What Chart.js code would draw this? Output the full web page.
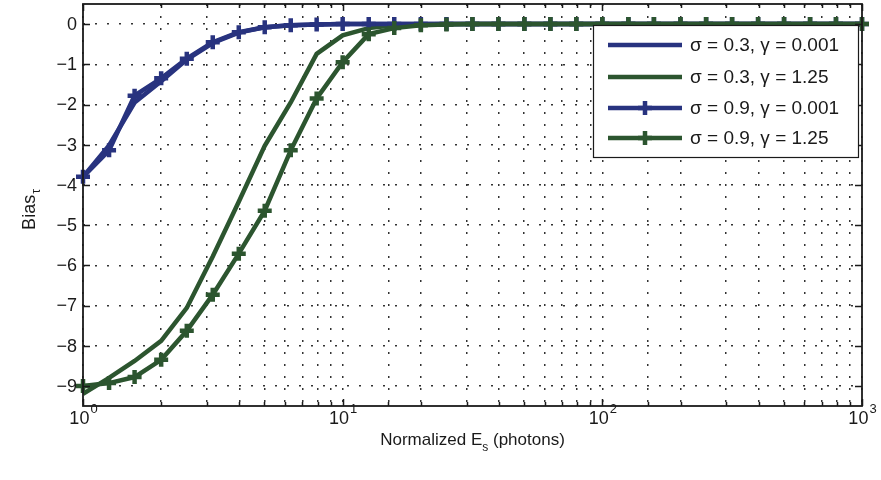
<!DOCTYPE html>
<html>
<head>
<meta charset="utf-8">
<title>Bias vs normalized Es</title>
<script src="https://cdn.jsdelivr.net/npm/chart.js@4.4.1/dist/chart.umd.min.js"></script>
<style>
    html, body { margin: 0; padding: 0; background: #fff; }
    #wrap { width: 881px; height: 480px; }
</style>
</head>
<body>
<div id="wrap"><canvas id="biasChart" width="881" height="480"></canvas></div>
<script>
// Normalized Es (photons), 10 points per decade
const photons = [1, 1.26, 1.58, 2, 2.51, 3.16, 3.98, 5.01, 6.31, 7.94,
    10, 12.6, 15.8, 20, 25.1, 31.6, 39.8, 50.1, 63.1, 79.4,
    100, 126, 158, 200, 251, 316, 398, 501, 631, 794, 1000];

// Bias values per curve
const biasS03G0001 = [-3.8, -3.02, -1.95, -1.42, -0.88, -0.47, -0.21, -0.08, -0.03, -0.01,
    0, 0, 0, 0, 0, 0, 0, 0, 0, 0, 0, 0, 0, 0, 0, 0, 0, 0, 0, 0, 0];
const biasS03G125 = [-9.2, -8.8, -8.38, -7.88, -7.06, -5.78, -4.42, -3.03, -1.95, -0.74,
    -0.28, -0.1, -0.03, -0.01, 0, 0, 0, 0, 0, 0, 0, 0, 0, 0, 0, 0, 0, 0, 0, 0, 0];
const biasS09G0001 = [-3.8, -3.14, -1.78, -1.35, -0.86, -0.45, -0.2, -0.08, -0.03, -0.01,
    0, 0, 0, 0, 0, 0, 0, 0, 0, 0, 0, 0, 0, 0, 0, 0, 0, 0, 0, 0, 0];
const biasS09G125 = [-9.0, -8.93, -8.78, -8.35, -7.63, -6.73, -5.71, -4.64, -3.14, -1.85,
    -0.95, -0.25, -0.1, -0.03, -0.01, 0, 0, 0, 0, 0, 0, 0, 0, 0, 0, 0, 0, 0, 0, 0, 0];

// Axis ticks
const yTicks = [-9, -8, -7, -6, -5, -4, -3, -2, -1, 0];
const xDecades = [1, 10, 100, 1000];
const xExponents = ['0', '1', '2', '3'];

const legendLabels = ['σ = 0.3, γ = 0.001', 'σ = 0.3, γ = 1.25', 'σ = 0.9, γ = 0.001', 'σ = 0.9, γ = 1.25'];

const BLUE = '#28337f';
const GREEN = '#2c552f';
const INK = '#1a1a1a';
const FONT = '"Liberation Sans", Arial, sans-serif';

function pts(values) {
    return photons.map((p, i) => ({ x: p, y: values[i] }));
}

function isDecade(v) {
    const l = Math.log10(v);
    return Math.abs(l - Math.round(l)) < 1e-6;
}

function drawCross(ctx, cx, cy, r, color) {
    ctx.strokeStyle = color;
    ctx.lineWidth = 4.5;
    ctx.beginPath();
    ctx.moveTo(cx - r, cy); ctx.lineTo(cx + r, cy);
    ctx.moveTo(cx, cy - r); ctx.lineTo(cx, cy + r);
    ctx.stroke();
}

// Box frame, inward ticks, tick labels, titles and legend
const matlabAxes = {
    id: 'matlabAxes',
    afterDraw(chart) {
        const { ctx, chartArea: a, scales: { x, y } } = chart;
        ctx.save();

        ctx.strokeStyle = INK;
        ctx.lineWidth = 1.5;
        ctx.beginPath();
        x.ticks.forEach(t => {
            const px = Math.round(x.getPixelForValue(t.value)) + 0.5;
            const len = isDecade(t.value) ? 7 : 4;
            ctx.moveTo(px, a.bottom); ctx.lineTo(px, a.bottom - len);
            ctx.moveTo(px, a.top); ctx.lineTo(px, a.top + len);
        });
        yTicks.forEach(v => {
            const py = Math.round(y.getPixelForValue(v)) + 0.5;
            ctx.moveTo(a.left, py); ctx.lineTo(a.left + 7, py);
            ctx.moveTo(a.right, py); ctx.lineTo(a.right - 7, py);
        });
        ctx.stroke();
        ctx.lineWidth = 1.8;
        ctx.strokeRect(a.left, a.top, a.right - a.left, a.bottom - a.top);

        // y tick labels
        ctx.fillStyle = INK;
        ctx.font = '18px ' + FONT;
        ctx.textAlign = 'right';
        ctx.textBaseline = 'middle';
        yTicks.forEach(v => {
            const label = v < 0 ? '\u2212' + Math.abs(v) : String(v);
            ctx.fillText(label, a.left - 6, y.getPixelForValue(v) + 1);
        });

        // x tick labels as 10^n
        ctx.textBaseline = 'alphabetic';
        ctx.textAlign = 'left';
        xDecades.forEach((v, i) => {
            const px = x.getPixelForValue(v);
            ctx.font = '18px ' + FONT;
            const wBase = ctx.measureText('10').width;
            ctx.font = '13px ' + FONT;
            const wExp = ctx.measureText(xExponents[i]).width;
            const start = px - (wBase + wExp) / 2;
            ctx.font = '18px ' + FONT;
            ctx.fillText('10', start, a.bottom + 18);
            ctx.font = '13px ' + FONT;
            ctx.fillText(xExponents[i], start + wBase + 1, a.bottom + 7);
        });

        // x axis title with subscript
        ctx.font = '17px ' + FONT;
        const t1 = 'Normalized E', t3 = ' (photons)';
        const w1 = ctx.measureText(t1).width, w3 = ctx.measureText(t3).width;
        ctx.font = '12px ' + FONT;
        const w2 = ctx.measureText('s').width;
        let sx = (a.left + a.right) / 2 - (w1 + w2 + w3) / 2;
        const by = a.bottom + 39;
        ctx.font = '17px ' + FONT;
        ctx.fillText(t1, sx, by);
        ctx.font = '12px ' + FONT;
        ctx.fillText('s', sx + w1, by + 6);
        ctx.font = '17px ' + FONT;
        ctx.fillText(t3, sx + w1 + w2, by);

        // y axis title, rotated, with subscript tau
        ctx.save();
        ctx.translate(35, 210);
        ctx.rotate(-Math.PI / 2);
        ctx.font = '18px ' + FONT;
        const wb = ctx.measureText('Bias').width;
        ctx.font = '12px ' + FONT;
        const wt = ctx.measureText('τ').width;
        const ys = -(wb + wt) / 2;
        ctx.font = '18px ' + FONT;
        ctx.fillText('Bias', ys, 0);
        ctx.font = '12px ' + FONT;
        ctx.fillText('τ', ys + wb + 1, 5);
        ctx.restore();

        // legend
        const lx = 593, ly = 25, lw = 265, lh = 132;
        ctx.fillStyle = '#fff';
        ctx.fillRect(lx, ly, lw, lh);
        ctx.strokeStyle = INK;
        ctx.lineWidth = 1.2;
        ctx.strokeRect(lx + 0.5, ly + 0.5, lw, lh);
        const rows = [45, 77, 108, 138];
        const colors = [BLUE, GREEN, BLUE, GREEN];
        const marked = [false, false, true, true];
        rows.forEach((ry, i) => {
            ctx.strokeStyle = colors[i];
            ctx.lineWidth = 4.5;
            ctx.beginPath();
            ctx.moveTo(608, ry); ctx.lineTo(682, ry);
            ctx.stroke();
            if (marked[i]) drawCross(ctx, 645, ry, 7, colors[i]);
            ctx.fillStyle = INK;
            ctx.font = '19px ' + FONT;
            ctx.textBaseline = 'middle';
            ctx.fillText(legendLabels[i], 690, ry + 1);
        });

        ctx.restore();
    }
};

function lineSet(label, values, color, marker, order) {
    return {
        label: label,
        data: pts(values),
        borderColor: color,
        backgroundColor: color,
        borderWidth: 4.5,
        pointStyle: 'cross',
        pointRadius: marker ? 7 : 0,
        pointBorderWidth: 4.5,
        pointBorderColor: color,
        tension: 0,
        clip: false,
        order: order
    };
}

const ctx = document.getElementById('biasChart').getContext('2d');
const biasChart = new Chart(ctx, {
    type: 'line',
    data: {
        datasets: [
            lineSet(legendLabels[0], biasS03G0001, BLUE, false, 3),
            lineSet(legendLabels[1], biasS03G125, GREEN, false, 2),
            lineSet(legendLabels[2], biasS09G0001, BLUE, true, 1),
            lineSet(legendLabels[3], biasS09G125, GREEN, true, 0)
        ]
    },
    options: {
        responsive: false,
        animation: false,
        events: [],
        layout: {
            autoPadding: false,
            padding: { left: 83, right: 19, top: 4, bottom: 74 }
        },
        plugins: {
            legend: { display: false },
            tooltip: { enabled: false }
        },
        scales: {
            x: {
                type: 'logarithmic',
                min: 1,
                max: 1000,
                ticks: { display: false },
                grid: { color: '#333', lineWidth: 1.5, drawTicks: false },
                border: { display: false, dash: [2, 10] }
            },
            y: {
                type: 'linear',
                min: -9.5,
                max: 0.5,
                afterBuildTicks: scale => {
                    scale.ticks = yTicks.map(v => ({ value: v }));
                },
                ticks: { display: false },
                grid: { color: '#333', lineWidth: 1.5, drawTicks: false },
                border: { display: false, dash: [2, 10] }
            }
        }
    },
    plugins: [matlabAxes]
});
</script>
</body>
</html>
